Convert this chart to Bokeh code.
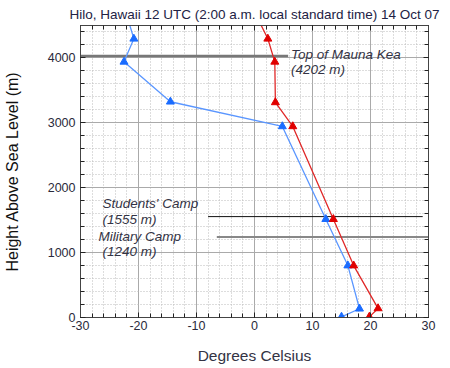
from bokeh.plotting import figure
from bokeh.models import (LinearAxis, Range1d, Label, FixedTicker, Grid)
from bokeh.embed import file_html
from bokeh.resources import INLINE

# Data
blue_temp = [15.0, 18.1, 16.1, 12.3, 4.8, -14.5, -22.5, -20.8, -22.5]
blue_height = [10, 135, 800, 1515, 2945, 3325, 3940, 4295, 4800]
red_temp = [19.8, 21.3, 17.1, 13.6, 6.6, 3.6, 3.5, 2.3, -0.5]
red_height = [10, 140, 800, 1515, 2945, 3315, 3940, 4295, 4800]

x_major = [-30, -20, -10, 0, 10, 20, 30]
x_labels = {-30: "-30", -20: "-20", -10: "-10", 0: "0", 10: "10", 20: "20", 30: "30"}
y_major = [0, 1000, 2000, 3000, 4000]

title_text = "Hilo, Hawaii 12 UTC (2:00 a.m. local standard time) 14 Oct 07"
mauna_kea_h = 4030
students_h = 1555
military_h = 1240

FONT = "Liberation Sans"
TXT = "#333344"

p = figure(width=450, height=368, output_backend="svg", toolbar_location=None,
           x_range=Range1d(-30, 30), y_range=Range1d(0, 4500),
           x_axis_location=None, y_axis_location=None,
           min_border_left=78, min_border_right=22, min_border_top=24, min_border_bottom=51)
p.outline_line_color = "#444444"
p.background_fill_color = "white"
p.border_fill_color = "white"

def style_axis(ax, labels=True):
    ax.axis_line_color = "#444444"
    ax.major_tick_in = 5
    ax.major_tick_out = 0
    ax.minor_tick_in = 4
    ax.minor_tick_out = 0
    ax.major_tick_line_color = "#222222"
    ax.minor_tick_line_color = "#222222"
    ax.major_label_text_font = FONT
    ax.major_label_text_font_size = "12.5px"
    ax.major_label_text_color = "#2a2a3a"
    if not labels:
        ax.major_label_text_alpha = 0
        ax.major_label_text_font_size = "1px"

xt = FixedTicker(ticks=x_major, minor_ticks=list(range(-30, 31, 2)))
yt = FixedTicker(ticks=y_major, minor_ticks=list(range(0, 4501, 200)))

xb = LinearAxis(ticker=xt, axis_label="Degrees Celsius")
style_axis(xb)
xb.major_label_overrides = x_labels
xb.axis_label_text_font = FONT
xb.axis_label_text_font_size = "15.5px"
xb.axis_label_text_font_style = "normal"
xb.axis_label_text_color = TXT
xb.major_label_standoff = 3
xb.axis_label_standoff = 14
p.add_layout(xb, "below")

xa = LinearAxis(ticker=xt)
style_axis(xa, labels=False)
p.add_layout(xa, "above")

yl = LinearAxis(ticker=yt, axis_label="Height Above Sea Level (m)")
style_axis(yl)
yl.axis_label_text_font = FONT
yl.axis_label_text_font_size = "16px"
yl.axis_label_text_font_style = "normal"
yl.axis_label_text_color = "#111111"
yl.major_label_standoff = 5
yl.axis_label_standoff = 24
p.add_layout(yl, "left")

yr = LinearAxis(ticker=yt)
style_axis(yr, labels=False)
p.add_layout(yr, "right")

p.title.text = title_text
p.title.text_font = FONT
p.title.text_font_size = "13.5px"
p.title.text_font_style = "normal"
p.title.text_color = "#222244"
p.title.align = "center"
p.title.offset = 5
p.title.standoff = 8

# grids
gx = Grid(dimension=0, ticker=xt)
gx.grid_line_color = "#aaaaaa"
gx.minor_grid_line_color = "#bbbbbb"
gx.minor_grid_line_dash = "1 2"
p.add_layout(gx)
gy = Grid(dimension=1, ticker=yt)
gy.grid_line_color = "#aaaaaa"
gy.minor_grid_line_color = "#bbbbbb"
gy.minor_grid_line_dash = "1 2"
p.add_layout(gy)

# reference lines
p.segment(x0=[-30], y0=[mauna_kea_h], x1=[5.8], y1=[mauna_kea_h], line_color="#777777", line_width=2.5)
p.segment(x0=[-8.0], y0=[students_h], x1=[29.0], y1=[students_h], line_color="#111111", line_width=1)
p.segment(x0=[-6.5], y0=[military_h], x1=[30], y1=[military_h], line_color="#888888", line_width=2)

# series
p.line(blue_temp, blue_height, line_color="#5a96ff", line_width=1.3)
p.scatter(blue_temp, blue_height, marker="triangle", size=8, fill_color="#1a6cff", line_color="#1a6cff")
p.line(red_temp, red_height, line_color="#e02828", line_width=1.3)
p.scatter(red_temp, red_height, marker="triangle", size=8, fill_color="#e00000", line_color="#e00000")

def lab(x, y, t):
    p.add_layout(Label(x=x, y=y, text=t, text_font=FONT, text_font_size="13.5px",
                       text_font_style="italic", text_color=TXT, text_baseline="middle"))

lab(6.3, 4060, "Top of Mauna Kea")
lab(6.3, 3816, "(4202 m)")
lab(-26.2, 1752, "Students' Camp")
lab(-26.2, 1513, "(1555 m)")
lab(-26.9, 1246, "Military Camp")
lab(-26.2, 1011, "(1240 m)")

open("out.html", "w").write(file_html(p, INLINE))
